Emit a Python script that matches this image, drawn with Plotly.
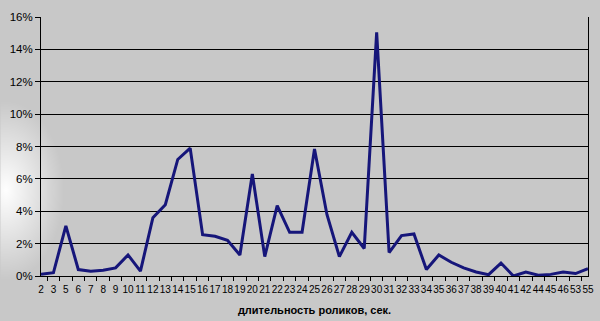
import base64, struct, zlib
import numpy as np
import plotly.graph_objects as go

categories = ["2","3","5","6","7","8","9","10","11","12","13","14","15","16","17","18","19","20",
              "21","22","23","24","25","26","27","28","29","30","31","32","33","34","35","36","37",
              "38","39","40","41","42","44","45","46","53","55"]
shares = [0.1,0.2,3.1,0.4,0.3,0.35,0.5,1.3,0.3,3.6,4.4,7.2,7.9,2.55,2.45,2.2,1.3,6.3,
          1.2,4.35,2.7,2.7,7.85,3.8,1.2,2.7,1.7,15.05,1.45,2.5,2.6,0.4,1.3,0.85,0.5,
          0.25,0.08,0.8,0.0,0.25,0.05,0.1,0.25,0.15,0.45]
y_ticks = [0,2,4,6,8,10,12,14,16]
y_tick_labels = [f"{v}%" for v in y_ticks]


def gradient_png(w=600, h=321):
    yy, xx = np.mgrid[0:h, 0:w].astype(float)
    d = np.sqrt(((xx - 5) / 60.0) ** 2 + ((yy - 190) / 90.0) ** 2)
    light = np.clip(1 - d, 0, 1)
    val = 200 + 55 * light
    val = np.clip(val, 0, 255).astype(np.uint8)
    rgb = np.stack([val, val, val], axis=-1)
    raw = b"".join(b"\x00" + rgb[i].tobytes() for i in range(h))

    def chunk(t, data):
        c = struct.pack(">I", len(data)) + t + data
        return c + struct.pack(">I", zlib.crc32(t + data) & 0xffffffff)

    png = b"\x89PNG\r\n\x1a\n" + chunk(b"IHDR", struct.pack(">IIBBBBB", w, h, 8, 2, 0, 0, 0)) \
        + chunk(b"IDAT", zlib.compress(raw, 9)) + chunk(b"IEND", b"")
    return "data:image/png;base64," + base64.b64encode(png).decode()


fig = go.Figure()
fig.add_trace(go.Scatter(x=categories, y=shares, mode="lines",
                         line=dict(color="#16167a", width=3), hoverinfo="skip"))

fig.update_layout(
    width=600, height=321,
    margin=dict(l=41, r=6, t=17, b=45),
    paper_bgcolor="#c8c8c8", plot_bgcolor="#ffffff",
    showlegend=False,
    font=dict(family="Liberation Sans, Arial, sans-serif", size=11, color="#000000"),
    images=[dict(source=gradient_png(), xref="paper", yref="paper", x=-41/553, y=1+17/259,
                 sizex=600/553, sizey=321/259, xanchor="left", yanchor="top",
                 sizing="stretch", layer="below")],
)
fig.update_xaxes(type="category", tickmode="array", tickvals=categories, ticktext=categories,
                 tickson="boundaries", ticks="outside", ticklen=4,
                 tickcolor="#000000", showline=True, linecolor="#000000", linewidth=1,
                 showgrid=False, tickangle=0, tickfont=dict(size=10),
                 ticklabelstandoff=4,
                 title=dict(text="<b>длительность роликов, сек.</b>", font=dict(size=11), standoff=12))
fig.update_yaxes(range=[0,16], tickvals=y_ticks, ticktext=y_tick_labels, ticks="outside",
                 ticklen=5, tickcolor="#000000", showline=True, linecolor="#000000", linewidth=1,
                 mirror=True, showgrid=True, gridcolor="#000000", gridwidth=1, zeroline=False,
                 tickfont=dict(size=11.5))

fig.write_html("out.html")
